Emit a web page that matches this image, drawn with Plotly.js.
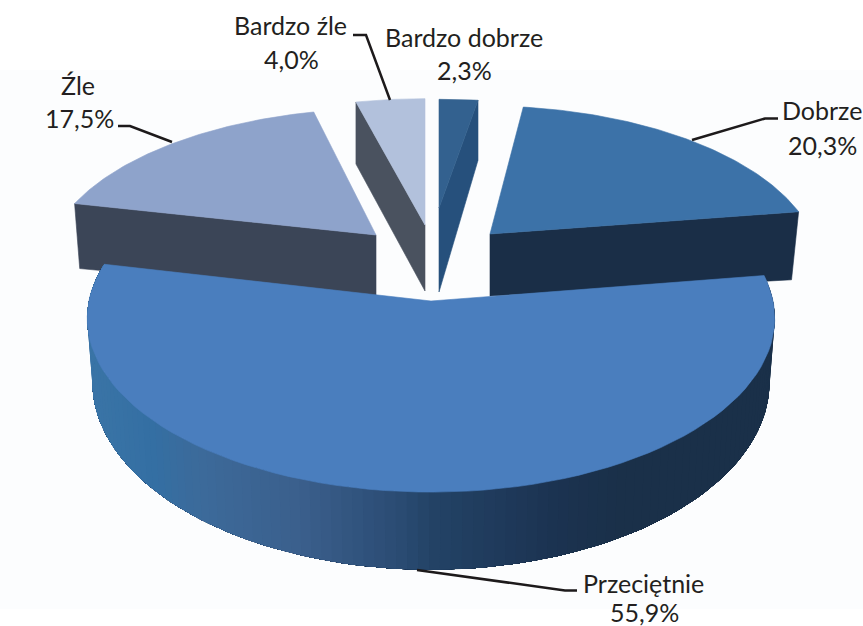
<!DOCTYPE html>
<html><head><meta charset="utf-8">
<script src="https://cdn.plot.ly/plotly-3.0.1.min.js"></script>
<style>html,body{margin:0;padding:0;background:#fff}#c{width:863px;height:626px}</style></head>
<body><div id="c"></div>
<script>
// ---- data ----
const categories = ["Bardzo dobrze", "Dobrze", "Przeciętnie", "Źle", "Bardzo źle"];
const values = [2.3, 20.3, 55.9, 17.5, 4.0];

// ---- projection of each exploded slice (style/geometry, not data) ----
const apexX   = [439, 490, 431, 376, 425];
const apexY   = [208, 234, 301, 235, 225];
const radX    = [321, 322, 342, 323, 328];
const radY    = [129, 152, 172, 150, 150];
const persp   = [.187, .187, .1, .187, .187];
const shear   = [0, -7, 0, 7, 0];
const rimD    = [60, 68, 62, 65, 62];
const rimSlope= [0, 0, 14, 0, 0];
const apexD   = [84, 62, 62, 61, 66];
const shrink  = [1, .977, .985, .983, 1];
const wallAt  = ["end", "end", "rim", "start", "start"];
const topCol  = ["#33618f", "#3c72a8", "#4a7ebe", "#8ea3cb", "#b2c1dc"];
const wallCol = ["#26507c", "#1a2e47", null, "#3b4557", "#4a525f"];
const drawOrder = [0, 4, 1, 3, 2];
const rimStopsX = [90, 150, 200, 300, 400, 430, 500, 560, 620, 780];
const rimStopsC = [[58,116,166],[52,111,163],[60,106,154],[59,95,140],[42,75,115],[35,67,102],[31,58,91],[27,50,80],[26,48,73],[26,48,73]];

// label placement
const labelX   = [464, 822, 643, 78, 290];
const nameBase = [45, 118, 591, 93, 33];
const pctBase  = [78, 153, 620, 126, 67];
const pctX     = [464, 822, 644, 79, 291];
const leadersX = [[353,366,390], [692,765,778], [417,565,577], [118,130,172]];
const leadersY = [[35,35,100], [140,118.5,118.5], [570,590.5,590.5], [126,126,142]];
const BASE_OFF = 8.5;
const FONT = "Lato, 'Open Sans', sans-serif";
const FONT_SIZE = 25;
const TEXT_COL = "#231f20";

// ---- build angles from values ----
const total = values.reduce((a,b)=>a+b,0);
let acc = 0;
const startA = [], endA = [];
values.forEach((v,i)=>{ startA[i]=acc/total*2*Math.PI; acc+=v; endA[i]=acc/total*2*Math.PI; });

function pt(i,t){
  const X=Math.sin(t),Y=Math.cos(t),s=1/(1+persp[i]*Y);
  return [apexX[i]+radX[i]*X*s+shear[i]*Y*s, apexY[i]-radY[i]*Y*s, Y*s];
}
function rim(i,t){
  const p=pt(i,t);
  return [apexX[i]+(p[0]-apexX[i])*shrink[i], p[1]+rimD[i]-rimSlope[i]*p[2]];
}
function arc(a,b,n){const o=[];for(let k=0;k<=n;k++)o.push(a+(b-a)*k/n);return o;}
function hex(c){return "rgb("+c.map(v=>Math.round(v)).join(",")+")";}
function rimColor(x){
  let j=0; while(j<rimStopsX.length-2&&x>rimStopsX[j+1])j++;
  const f=Math.max(0,Math.min(1,(x-rimStopsX[j])/(rimStopsX[j+1]-rimStopsX[j])));
  return hex(rimStopsC[j].map((v,k)=>v+(rimStopsC[j+1][k]-v)*f));
}
function poly(xs,ys,col,name,w){
  return {type:"scatter",mode:"lines",x:xs.concat(xs[0]),y:ys.concat(ys[0]),fill:"toself",fillcolor:col,
    line:{color:col,width:w},hoverinfo:"skip",showlegend:false,name:name};
}
const traces=[];
drawOrder.forEach(i=>{
  const a=startA[i],b=endA[i];
  if(wallAt[i]==="rim"){
    // painter's bands: each band runs to the end of the arc, the next one overlays it, so no seams show
    const ts=arc(a,b,120);
    for(let k=0;k<ts.length-1;k++){
      const rest=ts.slice(k), xs=[], ys=[];
      rest.forEach(t=>{const p=pt(i,t);xs.push(p[0]);ys.push(p[1]);});
      rest.slice().reverse().forEach(t=>{const r=rim(i,t);xs.push(r[0]);ys.push(r[1]);});
      traces.push(poly(xs,ys,rimColor((pt(i,ts[k])[0]+pt(i,ts[k+1])[0])/2),categories[i],0));
    }
  } else {
    const t=wallAt[i]==="start"?a:b, p=pt(i,t), r=rim(i,t);
    traces.push(poly([p[0],r[0],apexX[i],apexX[i]],[p[1],r[1],apexY[i]+apexD[i],apexY[i]],wallCol[i],categories[i],.6));
  }
  const ts=arc(a,b,80), xs=[apexX[i]], ys=[apexY[i]];
  ts.forEach(t=>{const p=pt(i,t);xs.push(p[0]);ys.push(p[1]);});
  traces.push(poly(xs,ys,topCol[i],categories[i],.6));
});
leadersX.forEach((lx,k)=>traces.push({type:"scatter",mode:"lines",x:lx,y:leadersY[k],
  line:{color:"#1d1a1b",width:2.5},hoverinfo:"skip",showlegend:false}));

const annotations=[];
categories.forEach((c,i)=>{
  annotations.push({x:labelX[i],y:nameBase[i]-BASE_OFF,text:c,showarrow:false,xanchor:"center",yanchor:"middle",borderpad:0,
    font:{family:FONT,size:FONT_SIZE,color:TEXT_COL}});
  annotations.push({x:pctX[i],y:pctBase[i]-BASE_OFF,text:values[i].toFixed(1).replace(".",",")+"%",showarrow:false,borderpad:0,
    xanchor:"center",yanchor:"middle",font:{family:FONT,size:FONT_SIZE,color:TEXT_COL}});
});
const axis={visible:false,fixedrange:true,showgrid:false,zeroline:false};
Plotly.newPlot("c",traces,{
  width:863,height:626,margin:{l:0,r:0,t:0,b:0},paper_bgcolor:"#ffffff",plot_bgcolor:"rgba(0,0,0,0)",showlegend:false,
  xaxis:Object.assign({range:[0,863]},axis),yaxis:Object.assign({range:[626,0]},axis),
  annotations:annotations,
  shapes:[{type:"rect",layer:"below",x0:0,x1:863,y0:70,y1:609,fillcolor:"#fcfdfe",line:{width:0}}]
},{displayModeBar:false,staticPlot:true});
</script></body></html>
